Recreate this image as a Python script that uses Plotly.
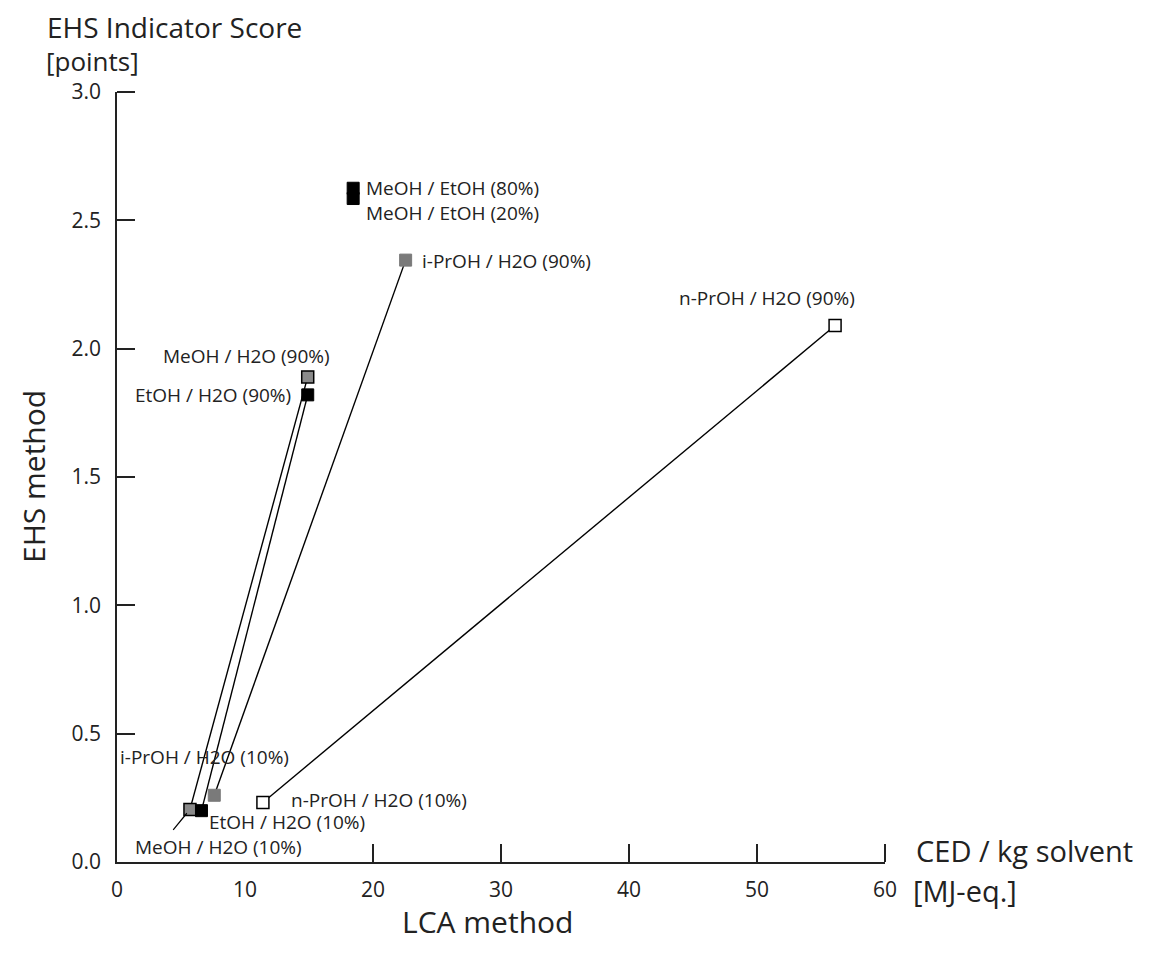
import plotly.graph_objects as go

# Data: CED [MJ-eq./kg] vs EHS indicator score [points]
labels = ["MeOH / EtOH (80%)", "MeOH / EtOH (20%)", "i-PrOH / H2O (90%)", "n-PrOH / H2O (90%)",
          "MeOH / H2O (90%)", "EtOH / H2O (90%)", "i-PrOH / H2O (10%)", "MeOH / H2O (10%)",
          "EtOH / H2O (10%)", "n-PrOH / H2O (10%)"]
ced = [18.45, 18.45, 22.55, 56.1, 14.9, 14.9, 7.6, 5.7, 6.6, 11.4]
ehs = [2.625, 2.585, 2.345, 2.09, 1.89, 1.82, 0.26, 0.205, 0.20, 0.232]
styles = ["black", "black", "gray", "open", "grayo", "black", "gray", "grayo", "black", "open"]

# connecting lines: (index 10%, index 90%)
pairs = [(7, 4), (8, 5), (6, 2), (9, 3)]

x_ticks = [0, 10, 20, 30, 40, 50, 60]
x_marks = [20, 30, 40, 50, 60]
y_ticks = [0.0, 0.5, 1.0, 1.5, 2.0, 2.5, 3.0]
y_marks = [0.5, 1.0, 1.5, 2.0, 2.5, 3.0]

FONT = "Open Sans"
TXT = "#222"

fig = go.Figure()

for a, b in pairs:
    fig.add_trace(go.Scatter(x=[ced[a], ced[b]], y=[ehs[a], ehs[b]], mode="lines",
                             line=dict(color="black", width=1.4), hoverinfo="skip"))

style_map = {
    "black": dict(color="black", line=dict(color="black", width=1)),
    "gray": dict(color="#7a7a7a", line=dict(color="#7a7a7a", width=1)),
    "grayo": dict(color="#8a8a8a", line=dict(color="black", width=1.5)),
    "open": dict(color="white", line=dict(color="black", width=1.5)),
}
for i in range(len(labels)):
    m = dict(symbol="square", size=12, **style_map[styles[i]])
    fig.add_trace(go.Scatter(x=[ced[i]], y=[ehs[i]], mode="markers", marker=m,
                             name=labels[i]))

# label placement offsets (pixels) and anchors
lab_pos = {
    0: dict(xshift=11, yshift=0, xanchor="left", yanchor="middle"),
    1: dict(xshift=11, yshift=-14, xanchor="left", yanchor="middle"),
    2: dict(xshift=14, yshift=-1, xanchor="left", yanchor="middle"),
    3: dict(xshift=-68, yshift=28, xanchor="center", yanchor="middle"),
    4: dict(xshift=-61, yshift=21, xanchor="center", yanchor="middle"),
    5: dict(xshift=-15, yshift=0, xanchor="right", yanchor="middle"),
    6: dict(xshift=-96, yshift=38, xanchor="left", yanchor="middle"),
    7: dict(xshift=29, yshift=-38, xanchor="center", yanchor="middle"),
    8: dict(xshift=6, yshift=-11, xanchor="left", yanchor="middle"),
    9: dict(xshift=26, yshift=2, xanchor="left", yanchor="middle"),
}
for i, lab in enumerate(labels):
    fig.add_annotation(x=ced[i], y=ehs[i], text=lab, showarrow=False,
                       font=dict(family=FONT, size=19, color=TXT), **lab_pos[i])

# leader line for MeOH / H2O (10%)
fig.add_annotation(x=ced[7], y=ehs[7], text="", showarrow=True, arrowhead=0,
                   arrowwidth=1.2, arrowcolor="black", ax=-18, ay=22, standoff=5)

# page body has an 8px default margin: compensate in figure margins
fig.update_layout(
    width=1136, height=937,
    margin=dict(l=109, r=259, t=84, b=83),
    paper_bgcolor="white", plot_bgcolor="white",
    showlegend=False,
    font=dict(family=FONT, color=TXT),
    xaxis=dict(range=[0, 60], tickmode="array", tickvals=x_ticks,
               ticktext=[str(v) for v in x_ticks], ticks="", showgrid=False,
               zeroline=False, showline=True, linecolor=TXT, linewidth=1.5,
               tickfont=dict(family=FONT, size=21, color=TXT), ticklabelstandoff=8,
               minor=dict(tickmode="array", tickvals=x_marks, ticks="inside",
                          ticklen=18, tickwidth=1.5, tickcolor=TXT, showgrid=False)),
    yaxis=dict(range=[0, 3], tickmode="array", tickvals=y_ticks,
               ticktext=[f"{v:.1f}" for v in y_ticks], ticks="", showgrid=False,
               zeroline=False, showline=True, linecolor=TXT, linewidth=1.5,
               tickfont=dict(family=FONT, size=21, color=TXT), ticklabelstandoff=10,
               minor=dict(tickmode="array", tickvals=y_marks, ticks="inside",
                          ticklen=18, tickwidth=1.5, tickcolor=TXT, showgrid=False)),
)

# axis titles
fig.add_annotation(xref="paper", yref="paper", x=0, y=1, xshift=-72, yshift=65,
                   xanchor="left", yanchor="middle", showarrow=False,
                   text="EHS Indicator Score",
                   font=dict(family=FONT, size=28, color=TXT))
fig.add_annotation(xref="paper", yref="paper", x=0, y=1, xshift=-73, yshift=31,
                   xanchor="left", yanchor="middle", showarrow=False,
                   text="[points]",
                   font=dict(family=FONT, size=26, color=TXT))
fig.add_annotation(xref="paper", yref="paper", x=0, y=0.5, xshift=-84,
                   xanchor="center", yanchor="middle",
                   textangle=-90, showarrow=False, text="EHS method",
                   font=dict(family=FONT, size=30, color=TXT))
fig.add_annotation(xref="paper", yref="paper", x=1, y=0, xshift=29, yshift=12,
                   xanchor="left", yanchor="middle", align="left", showarrow=False,
                   text="CED / kg solvent", font=dict(family=FONT, size=29, color=TXT))
fig.add_annotation(xref="paper", yref="paper", x=1, y=0, xshift=26, yshift=-28,
                   xanchor="left", yanchor="middle", align="left", showarrow=False,
                   text="[MJ-eq.]", font=dict(family=FONT, size=29, color=TXT))
fig.add_annotation(xref="paper", yref="paper", x=0.5, y=0, yshift=-82,
                   xshift=-14, showarrow=False, yanchor="bottom",
                   text="LCA method", font=dict(family=FONT, size=30, color=TXT))

fig.write_html("out.html")
